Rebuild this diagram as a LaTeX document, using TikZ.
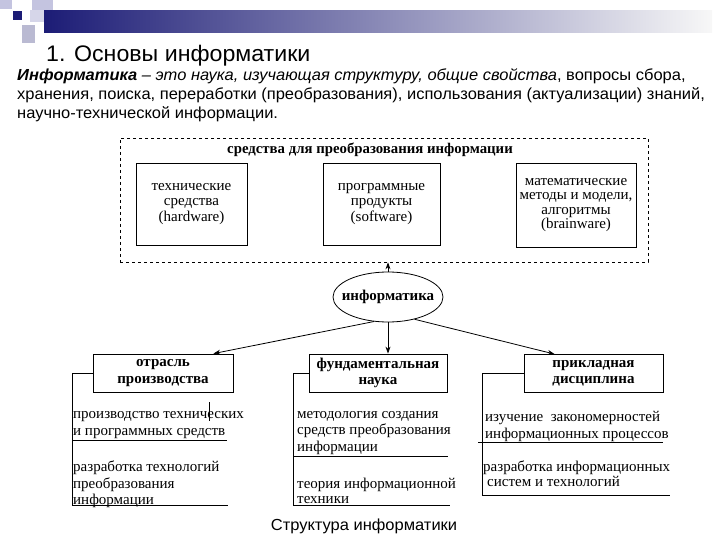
\documentclass[tikz,border=0pt]{standalone}
\usepackage{fontspec}
\setmainfont{Liberation Serif}
\newfontfamily\slidefont[FakeStretch=1.03]{Liberation Sans}
\usetikzlibrary{arrows.meta,positioning,shapes.geometric,shadows}

\definecolor{slidenavy}{RGB}{28,28,118}
\definecolor{slidelilac}{RGB}{196,196,224}

\begin{document}
\begin{tikzpicture}[x=1pt, y=-1pt,
  toolbox/.style={rectangle, draw, line width=0.8pt, minimum height=82pt, align=center, font=\fontsize{15}{15.5}\selectfont},
  branch/.style={rectangle, draw, line width=0.8pt, minimum width=138pt, minimum height=38pt, inner sep=1pt, align=center, font=\fontsize{15}{16.5}\selectfont\bfseries},
  item/.style={anchor=north west, inner sep=0pt, align=left, font=\fontsize{15}{17.5}\selectfont},
  edge/.style={-{Stealth[length=7pt,width=5pt]}, line width=0.8pt},
  rule/.style={line width=0.7pt}
]
  \useasboundingbox (0,0) rectangle (720,540);

  % Slide header
  \fill[slidelilac] (0,0) rectangle (12,9);
  \fill[slidelilac] (32,0) rectangle (53,10);
  \fill[slidelilac!70!white] (30,10) rectangle (44,22);
  \shade[left color=slidenavy, right color=gray!6] (44,11) rectangle (712,33);
  \fill[slidenavy] (13,11) rectangle (22,20);
  \fill[slidelilac!85!gray] (22,25) rectangle (35,43);

  \node[anchor=base west, inner sep=0pt, font=\slidefont\fontsize{22.5}{26}\selectfont] (title) at (46,62) {1. Основы информатики};
  \node[anchor=north west, inner sep=0pt, align=left, font=\slidefont\fontsize{16}{19}\selectfont] (defn) at (17,68)
    {{\bfseries\itshape Информатика} \textit{– это наука, изучающая структуру, общие свойства}, вопросы сбора,\\
     хранения, поиска, переработки (преобразования), использования (актуализации) знаний,\\
     научно-технической информации.};

  % Tools (dashed frame)
  \node[draw, dashed, line width=0.7pt, minimum width=528pt, minimum height=124pt] (tools) at (384,200) {};
  \node[font=\fontsize{14.8}{16}\selectfont\bfseries] (toolstitle) at (370,150) {средства для преобразования информации};
  \node[toolbox, minimum width=111pt] (hw) at (191.5,204) {технические\\средства\\(hardware)};
  \node[toolbox, minimum width=117pt] (sw) at (381.5,204) {программные\\продукты\\(software)};
  \node[toolbox, minimum width=120pt, minimum height=84pt, fill=white, font=\fontsize{15}{14.5}\selectfont,
        drop shadow={shadow xshift=1.2pt, shadow yshift=-1.2pt, opacity=1, fill=black}] (bw) at (576,205)
    {математические\\методы и модели,\\алгоритмы\\(brainware)};

  % Informatics
  \node[ellipse, draw, line width=0.8pt, minimum width=110pt, minimum height=50pt, inner sep=0pt] (inf) at (388,297) {};
  \node[font=\fontsize{15}{17}\selectfont\bfseries] (inftext) at (inf.center) {информатика};

  % Branches
  \node[branch, minimum width=140pt] (prod) at (163,373) {отрасль\\производства};
  \node[branch] (fund) at (378,373) {фундаментальная\\наука};
  \node[branch, minimum width=139pt] (appl) at (593.5,373.5) {прикладная\\дисциплина};

  \draw[edge] (inf.north) -- (inf.north |- tools.south);
  \draw[edge] (inf.240) -- ([xshift=-20pt]prod.north east);
  \draw[edge] (inf.south) -- (inf.south |- fund.north);
  \draw[edge] (inf.-40) -- ([xshift=31pt]appl.north west);

  % Lists under the branches
  \coordinate (p1) at (72,505);
  \coordinate (f1) at (293,505);
  \coordinate (a1) at (482,495);
  \draw[rule] (prod.west) -| (p1) -- (228,505);
  \draw[rule] (fund.west) -| (f1) -- (450,505);
  \draw[rule] (appl.west) -| (a1) -- (670,495);
  \draw[rule] (73,440) -- (227,440);
  \draw[rule] (209,402) -- (209,421);
  \draw[rule] (293,456) -- (448,456);
  \draw[rule] (478,442) -- (663,442);

  \node[item] (prod1) at (73,411) {производство технических\\и программных средств};
  \node[item, font=\fontsize{15}{16.5}\selectfont] (prod2) at (73,461) {разработка технологий\\преобразования\\информации};
  \node[item, font=\fontsize{15}{16.5}\selectfont] (fund1) at (297,411) {методология создания\\средств преобразования\\информации};
  \node[item, font=\fontsize{15}{15}\selectfont] (fund2) at (297,478) {теория информационной\\техники};
  \node[item] (appl1) at (485,411) {изучение\ \ закономерностей\\информационных процессов};
  \node[item, font=\fontsize{15}{15}\selectfont] (appl2) at (483,461) {разработка информационных\\\hspace*{4pt}систем и технологий};

  \node[font=\slidefont\fontsize{16}{18}\selectfont] (caption) at (364,526) {Структура информатики};
\end{tikzpicture}
\end{document}
